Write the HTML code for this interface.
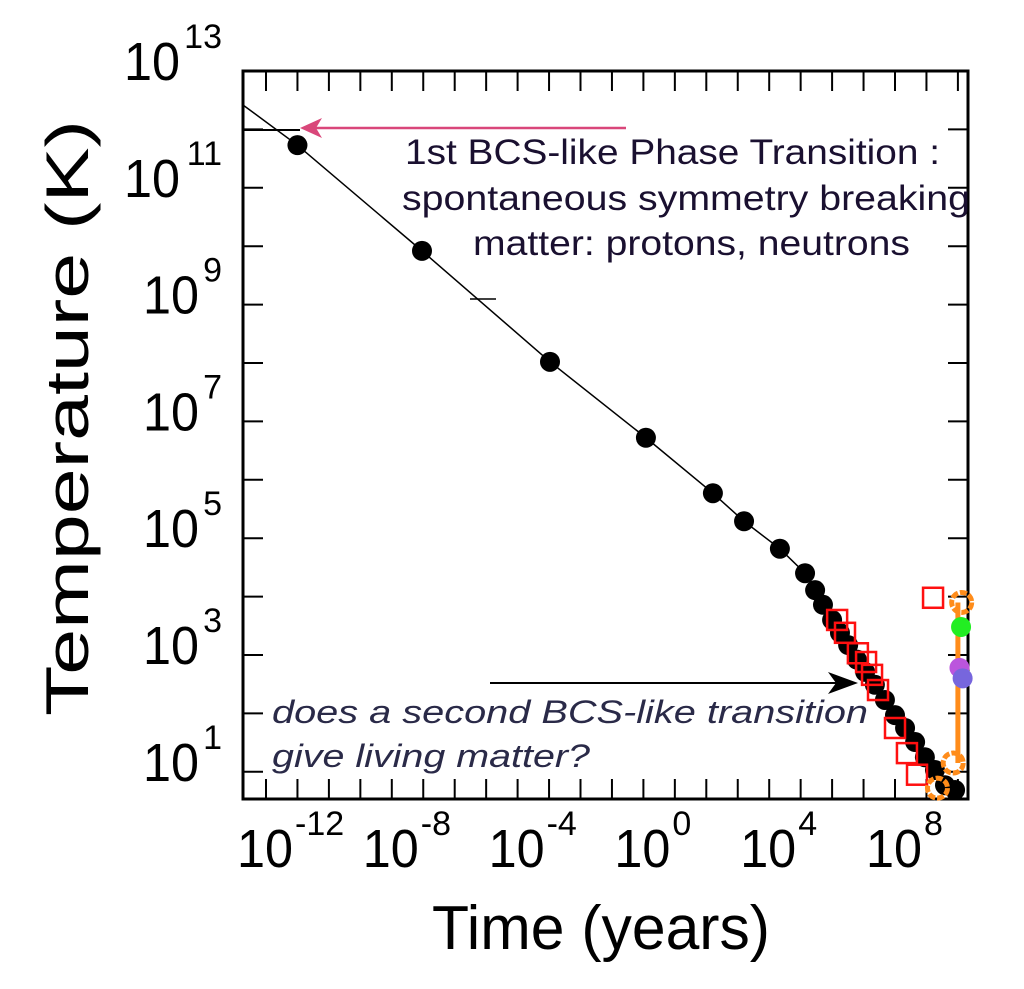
<!DOCTYPE html>
<html><head><meta charset="utf-8"><style>
html,body{margin:0;padding:0;background:#fff;}
svg{display:block;font-family:"Liberation Sans",Arial,sans-serif;}
</style></head><body>
<svg id="chart" width="1024" height="989" viewBox="0 0 1024 989">
<g id="axes"></g>
<g id="marks"></g>
<g id="annot">
  <line x1="243" y1="130" x2="300" y2="130" stroke="#000" stroke-width="2"/>
  <line x1="626" y1="128" x2="305" y2="128" stroke="#d9477a" stroke-width="2.5"/>
  <path d="M300,128 L322,118 L316,128 L322,138 Z" fill="#d9477a"/>
  <line x1="490" y1="683" x2="845" y2="683" stroke="#000" stroke-width="2"/>
  <path d="M858,683 L828,672 L836,683 L828,694 Z" fill="#000"/>
  <line x1="470" y1="299" x2="496" y2="299" stroke="#000" stroke-width="1.5"/>
  <g font-size="35" fill="#1a1030">
    <text x="405" y="164" textLength="535" lengthAdjust="spacingAndGlyphs">1st BCS-like Phase Transition :</text>
    <text x="402" y="210" textLength="568" lengthAdjust="spacingAndGlyphs">spontaneous symmetry breaking</text>
    <text x="473" y="255" textLength="437" lengthAdjust="spacingAndGlyphs">matter: protons, neutrons</text>
  </g>
  <g font-size="32" font-style="italic" fill="#2a2a48">
    <text x="272" y="723" textLength="596" lengthAdjust="spacingAndGlyphs">does  a second BCS-like transition</text>
    <text x="272" y="767" textLength="318" lengthAdjust="spacingAndGlyphs">give living matter?</text>
  </g>
  <text x="432" y="949" font-size="62" textLength="338" lengthAdjust="spacingAndGlyphs" fill="#000">Time (years)</text>
  <text transform="translate(88,418) rotate(-90)" font-size="60" text-anchor="middle" textLength="596" lengthAdjust="spacingAndGlyphs" fill="#000">Temperature (K)</text>
</g>
</svg>
<script>
// data (log10 values)
const blackX = [-11.0,-7.04,-2.97,0.08,2.21,3.20,4.34,5.14,5.46,5.71,6.00,6.25,6.51,6.79,7.05,7.36,7.68,8.00,8.32,8.64,8.95,9.27,9.59,9.91];
const blackY = [11.73,9.92,8.02,6.72,5.77,5.29,4.82,4.40,4.11,3.86,3.60,3.38,3.17,2.92,2.71,2.49,2.23,1.97,1.75,1.51,1.25,1.03,0.77,0.60];
const redX = [6.16,6.41,6.82,7.08,7.27,7.46,8.00,8.38,8.70,9.21];
const redY = [3.60,3.38,3.03,2.88,2.66,2.40,1.75,1.32,0.95,3.98];
const orangeX = [10.12,9.85,9.35];
const orangeY = [3.90,1.15,0.72];
const extraX = [10.1,10.05,10.15];
const extraY = [3.48,2.78,2.60];
const extraColors = ["#22ee22","#bb55dd","#7766dd"];
const yTickLabels = [13,11,9,7,5,3,1];
const xTickLabels = [-12,-8,-4,0,4,8];

const L=243,R=968,T=71,B=799;
const X0=266, XS=31.45, Y0=71, YS=58.4;
function sx(v){return X0+(v+12)*XS;}
function sy(v){return Y0+(13-v)*YS;}
const NS="http://www.w3.org/2000/svg";
function mk(tag,attrs,parent){const e=document.createElementNS(NS,tag);for(const k in attrs)e.setAttribute(k,attrs[k]);parent.appendChild(e);return e;}
const axes=document.getElementById('axes'), marks=document.getElementById('marks');

let frame=mk('rect',{x:L,y:T,width:R-L,height:B-T,fill:'none',stroke:'#000','stroke-width':3},axes);


for(let d=-12;d<=10;d++){const x=sx(d);
  let t1=mk('line',{x1:x,y1:B,x2:x,y2:B-20,stroke:'#000','stroke-width':2},axes);
  
  
  let t2=mk('line',{x1:x,y1:T,x2:x,y2:T+20,stroke:'#000','stroke-width':2},axes);
  
  }
for(let d=1;d<=12;d++){const y=sy(d);
  let t1=mk('line',{x1:L,y1:y,x2:L+20,y2:y,stroke:'#000','stroke-width':2},axes);
  
  
  let t2=mk('line',{x1:R,y1:y,x2:R-20,y2:y,stroke:'#000','stroke-width':2},axes);
  
  }
yTickLabels.forEach(p=>{const y=sy(p);
  const ew=p<10?21:40;
  const t=mk('text',{x:222-ew-58,y:y+9,'font-size':54,fill:'#000',textLength:56,lengthAdjust:'spacingAndGlyphs'},axes);
  t.textContent='10';
  
  
  const e=mk('text',{x:222,y:y-23,'font-size':34,fill:'#000','text-anchor':'end'},axes);
  e.textContent=String(p);
  
  });
xTickLabels.forEach(p=>{const x=sx(p);
  const t=mk('text',{x:x-29,y:867,'font-size':54,fill:'#000',textLength:56,lengthAdjust:'spacingAndGlyphs'},axes);
  t.textContent='10';
  
  
  const e=mk('text',{x:x+29,y:835,'font-size':34,fill:'#000'},axes);
  e.textContent=(p<0?'-':'')+Math.abs(p);
  
  });

let pts=[[L,105]].concat(blackX.map((v,i)=>[sx(v),sy(blackY[i])]));
let ln=mk('polyline',{points:pts.map(p=>p.join(',')).join(' '),fill:'none',stroke:'#000','stroke-width':1.5},marks);


blackX.forEach((v,i)=>{const c=mk('circle',{cx:sx(v),cy:Math.min(sy(blackY[i]),790),r:10,fill:'#000'},marks);
  
  });
redX.forEach((v,i)=>{const s=mk('rect',{x:sx(v)-10,y:sy(redY[i])-10,width:20,height:20,fill:'none',stroke:'#ff1010','stroke-width':2.5},marks);
  
  });
let ol=mk('line',{x1:sx(10.0),y1:sy(orangeY[0]),x2:sx(10.0),y2:sy(orangeY[1]),stroke:'#ff8c1a','stroke-width':5},marks);


orangeX.forEach((v,i)=>{const c=mk('circle',{cx:sx(v),cy:sy(orangeY[i]),r:10,fill:'none',stroke:'#ff8c1a','stroke-width':5,'stroke-dasharray':'7 2'},marks);
  
  });
extraX.forEach((v,i)=>{const c=mk('circle',{cx:sx(v),cy:sy(extraY[i]),r:10,fill:extraColors[i]},marks);
  
  });
</script>
</body></html>
